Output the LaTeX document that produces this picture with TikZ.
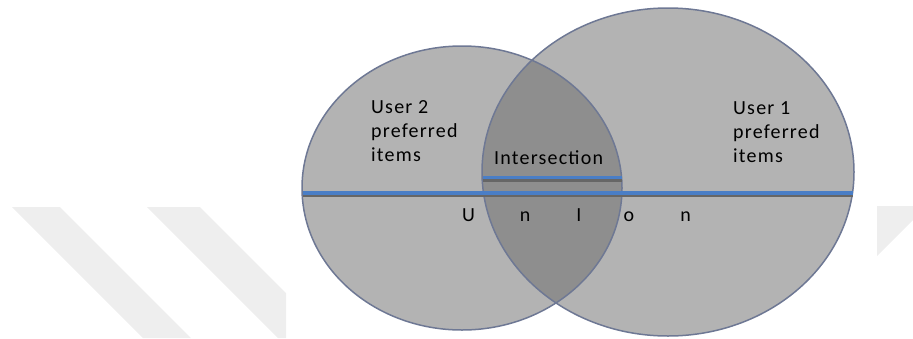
\documentclass[tikz,border=0pt]{standalone}
\usepackage{fontspec}
\setmainfont{Carlito}[LetterSpace=6]
\definecolor{wmark}{HTML}{EEEEEE}
\definecolor{setfill}{HTML}{B3B3B3}
\definecolor{interfill}{HTML}{8E8E8E}
\definecolor{setline}{HTML}{6E7894}
\definecolor{barblue}{HTML}{4A7EC6}
\definecolor{barshadow}{HTML}{666666}
\tikzset{
  lbl/.style={inner sep=0pt, anchor=base west, text=black, font=\fontsize{20}{24}\selectfont},
  letter/.style={inner sep=0pt, anchor=base, text=black, font=\fontsize{20}{24}\selectfont},
  outline/.style={draw=setline, line width=1.5pt},
  bar/.style={draw=barblue, line width=4pt},
  barsh/.style={draw=barshadow, line width=2.6pt},
  thinbar/.style={draw=barblue, line width=3pt},
  thinbarsh/.style={draw=barshadow, line width=2.6pt}
}
\begin{document}
\begin{tikzpicture}[x=1pt,y=-1pt]
\useasboundingbox (0,0) rectangle (913,338);
% watermark stripes
\fill[wmark] (12,207) -- (60,207) -- (191,338) -- (143,338) -- cycle;
\fill[wmark] (147,207) -- (200,207) -- (286,293) -- (286,338) -- (278,338) -- cycle;
\fill[wmark] (877,206) -- (913,206) -- (913,220) -- (877,256) -- cycle;
% sets
\fill[setfill] (462,188) ellipse [x radius=160pt, y radius=142pt];
\fill[setfill] (668,172) ellipse [x radius=186pt, y radius=164pt];
\begin{scope}
  \clip (462,188) ellipse [x radius=160pt, y radius=142pt];
  \fill[interfill] (668,172) ellipse [x radius=186pt, y radius=164pt];
\end{scope}
\draw[outline] (462,188) ellipse [x radius=160pt, y radius=142pt];
\draw[outline] (668,172) ellipse [x radius=186pt, y radius=164pt];
% bars
\coordinate (ul) at (303,192.5);
\coordinate (ur) at (853,192.5);
\coordinate (ulsh) at (303,195.6);
\coordinate (ursh) at (853,195.6);
\coordinate (il) at (483,177.8);
\coordinate (ir) at (622,177.8);
\coordinate (ilsh) at (483,180.6);
\coordinate (irsh) at (622,180.6);
\draw[barsh] (ulsh) -- (ursh);
\draw[bar] (ul) -- (ur);
\draw[thinbarsh] (ilsh) -- (irsh);
\draw[thinbar] (il) -- (ir);
% labels
\node[lbl] (u2a) at (371,113) {User 2};
\node[lbl] (u2b) at (371,137.5) {preferred};
\node[lbl] (u2c) at (371,161.5) {items};
\node[lbl] (u1a) at (733,114) {User 1};
\node[lbl] (u1b) at (733,138) {preferred};
\node[lbl] (u1c) at (733,162) {items};
\node[lbl] (inter) at (494,164) {Intersection};
\node[letter] (l1) at (468.5,221) {U};
\node[letter] (l2) at (525,221) {n};
\node[letter] (l3) at (579,221) {I};
\node[letter] (l4) at (629,221) {o};
\node[letter] (l5) at (685.5,221) {n};
\end{tikzpicture}
\end{document}
